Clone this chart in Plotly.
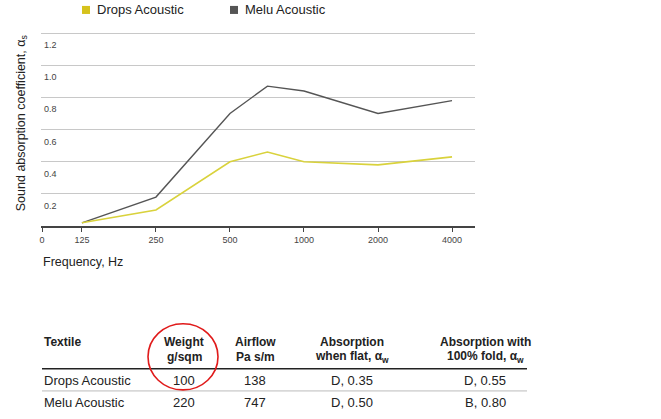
import numpy as np
import plotly.graph_objects as go

# octave band centres (the extra point sits half an octave above 500 Hz)
freqs = [125, 250, 500, 710, 1000, 2000, 4000]
drops_acoustic = [0.02, 0.10, 0.40, 0.46, 0.40, 0.38, 0.43]
melu_acoustic = [0.02, 0.18, 0.70, 0.87, 0.84, 0.70, 0.78]

tick_freqs = [86, 125, 250, 500, 1000, 2000, 4000]
tick_labels = ["0", "125", "250", "500", "1000", "2000", "4000"]
y_ticks = [0.2, 0.4, 0.6, 0.8, 1.0, 1.2]

table_header = [("Textile", ""), ("Weight", "g/sqm"), ("Airflow", "Pa s/m"),
                ("Absorption", "when flat, α<sub>w</sub>"),
                ("Absorption with", "100% fold, α<sub>w</sub>")]
table_rows = [
    ["Drops Acoustic", "100", "138", "D, 0.35", "D, 0.55"],
    ["Melu Acoustic", "220", "747", "D, 0.50", "B, 0.80"],
]

YELLOW = "#d9d23c"
YELLOW_KEY = "#d6c21c"
GREY = "#555555"
FONT = "Liberation Sans, Arial, sans-serif"

W, H = 661, 419
L, R, T, B = 41, 475, 33, 226.5


def fx(px):
    return (px - L) / (R - L)


def fy(py):
    return (B - py) / (B - T)


fig = go.Figure()
fig.add_trace(go.Scatter(x=freqs, y=melu_acoustic, mode="lines", name="Melu Acoustic",
                         line=dict(color=GREY, width=1.4)))
fig.add_trace(go.Scatter(x=freqs, y=drops_acoustic, mode="lines", name="Drops Acoustic",
                         line=dict(color=YELLOW, width=1.6)))

shapes = []
annotations = []

# legend
for xk, label, col in [(82, "Drops Acoustic", YELLOW_KEY), (230, "Melu Acoustic", GREY)]:
    shapes.append(dict(type="rect", xref="paper", yref="paper",
                       x0=fx(xk), x1=fx(xk + 8), y0=fy(15), y1=fy(7),
                       fillcolor=col, line=dict(width=0)))
    annotations.append(dict(text=label, xref="paper", yref="paper", x=fx(xk + 13), y=fy(11),
                            xanchor="left", yanchor="middle", showarrow=False,
                            font=dict(size=13, color="#222", family=FONT)))

# y tick labels sit just under their grid lines, inside the plot
for v in y_ticks:
    annotations.append(dict(text="%.1f" % v, xref="paper", yref="y", x=fx(42), y=v, yshift=-12,
                            xanchor="left", yanchor="middle", showarrow=False,
                            font=dict(size=9, color="#444", family=FONT)))

# axis titles
annotations.append(dict(text="Sound absorption coefficient, α<sub>s</sub>", xref="paper", yref="paper",
                        x=fx(22), y=fy(124), textangle=-90, showarrow=False,
                        xanchor="center", yanchor="middle",
                        font=dict(size=12.5, color="#222", family=FONT)))
annotations.append(dict(text="Frequency, Hz", xref="paper", yref="paper", x=fx(41), y=fy(262),
                        xanchor="left", yanchor="middle", showarrow=False,
                        font=dict(size=12.5, color="#222", family=FONT)))

# table
col_x = [42, 184, 255, 352, 485]
for i, (h1, h2) in enumerate(table_header):
    anchor = "left" if i == 0 else "center"
    annotations.append(dict(text="<b>%s</b>" % h1, xref="paper", yref="paper", x=fx(col_x[i]), y=fy(342),
                            xanchor=anchor, yanchor="middle", showarrow=False,
                            font=dict(size=12, color="#222", family=FONT)))
    if h2:
        annotations.append(dict(text="<b>%s</b>" % h2, xref="paper", yref="paper", x=fx(col_x[i]), y=fy(357),
                                xanchor=anchor, yanchor="middle", showarrow=False,
                                font=dict(size=12, color="#222", family=FONT)))
for r, row in enumerate(table_rows):
    ry = 381 + r * 22
    for i, val in enumerate(row):
        anchor = "left" if i == 0 else "center"
        annotations.append(dict(text=val, xref="paper", yref="paper", x=fx(col_x[i]), y=fy(ry),
                                xanchor=anchor, yanchor="middle", showarrow=False,
                                font=dict(size=13, color="#222", family=FONT)))

shapes.append(dict(type="line", xref="paper", yref="paper", x0=fx(42), x1=fx(527), y0=fy(369), y1=fy(369),
                   line=dict(color="#222", width=1.5)))
shapes.append(dict(type="line", xref="paper", yref="paper", x0=fx(42), x1=fx(527), y0=fy(391), y1=fy(391),
                   line=dict(color="#bbbbbb", width=1)))
# red hand-drawn ring
shapes.append(dict(type="circle", xref="paper", yref="paper", x0=fx(148), x1=fx(218), y0=fy(390), y1=fy(324),
                   line=dict(color="#e01b1b", width=1.6)))

fig.update_layout(
    width=W, height=H,
    margin=dict(l=L, r=W - R, t=T - 1, b=H - B, pad=0),
    paper_bgcolor="white", plot_bgcolor="white",
    showlegend=False,
    font=dict(family=FONT, color="#333"),
    shapes=shapes, annotations=annotations,
    xaxis=dict(type="log", range=[np.log10(85.2), np.log10(4960)],
               tickvals=tick_freqs, ticktext=tick_labels, automargin=False,
               showgrid=False, zeroline=False,
               showline=True, linecolor="#444", linewidth=1.5,
               ticks="outside", ticklen=4, tickcolor="#444", tickwidth=1,
               tickfont=dict(size=9, color="#444")),
    yaxis=dict(range=[0, 1.207], tickvals=y_ticks, automargin=False,
               showgrid=True, gridcolor="#c8c8c8", gridwidth=1,
               zeroline=False, showline=False, ticks="", showticklabels=False),
)

# the page's default body margin would push the whole figure 8px off
fig.write_html("out.html", config={"displayModeBar": False},
               post_script="document.body.style.margin='0';")
